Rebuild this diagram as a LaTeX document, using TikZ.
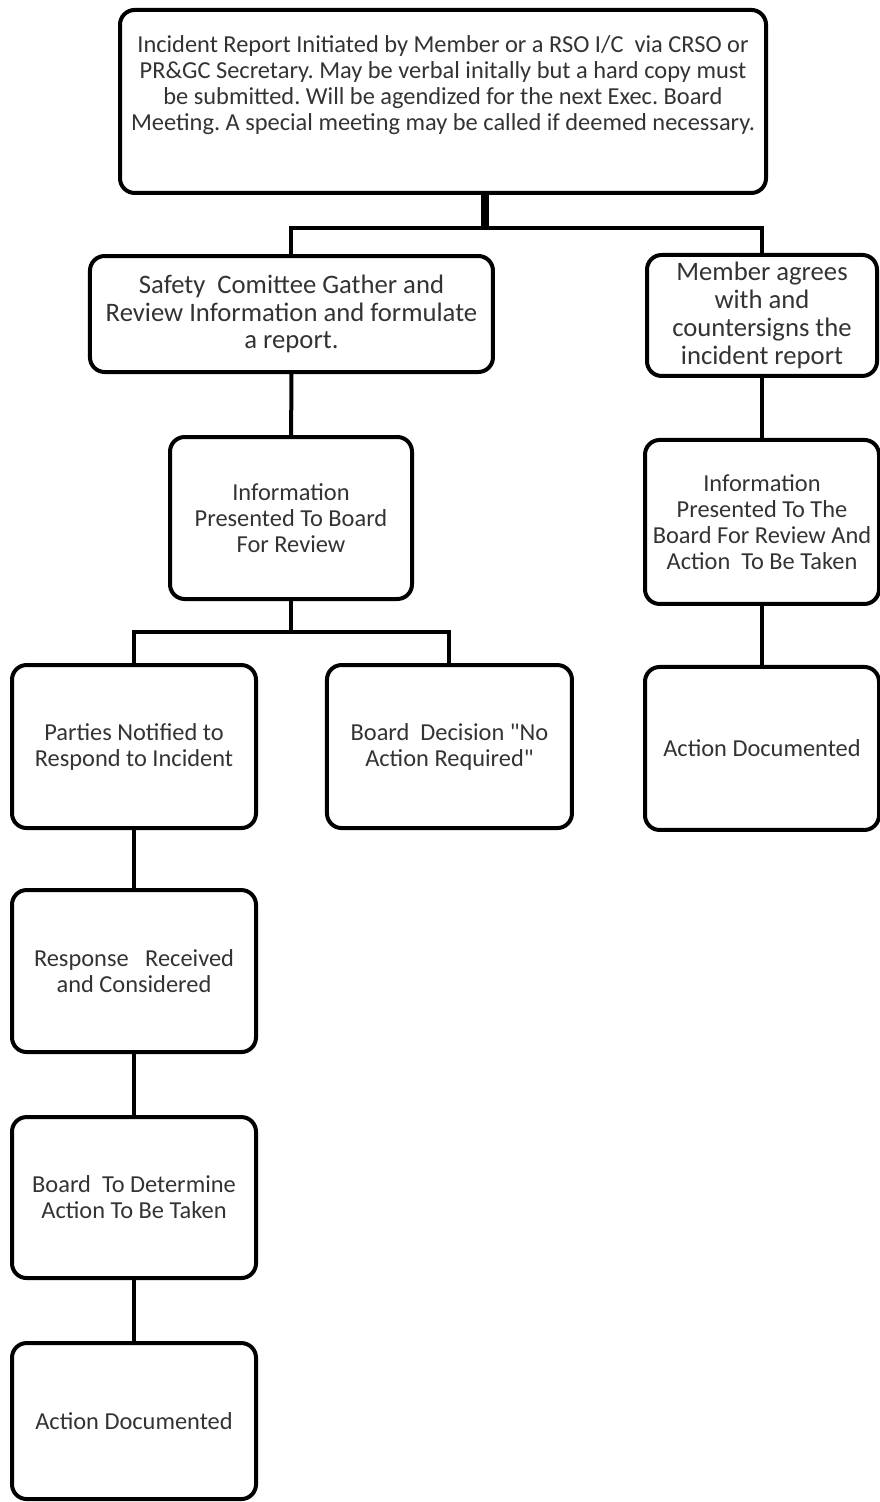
\documentclass[tikz,border=0pt]{standalone}
\usepackage{fontspec}
\setmainfont{Carlito}[Ligatures=TeXOff]
\usepackage{tikz}
\usetikzlibrary{positioning, calc}
\frenchspacing

\begin{document}
\begin{tikzpicture}[
    x=1pt, y=-1pt,
    box/.style={rectangle, draw, line width=3pt, rounded corners=11pt, outer sep=0pt, inner sep=2pt, align=center, text=black!80, font=\fontsize{18.3}{19.5}\selectfont},
    bigbox/.style={box, font=\fontsize{20}{20.5}\selectfont},
    link/.style={line width=3pt},
    trunk/.style={line width=6pt}
]
\useasboundingbox (0,0) rectangle (659.25,1126.5);

% Top
\node[box, minimum width=484.5pt, minimum height=137.25pt, text depth=28pt] (report) at (332.25,76.1)
  {Incident Report Initiated by Member or a RSO I/C~ via CRSO or\\
   PR\&GC Secretary. May be verbal initally but a hard copy must\\
   be submitted. Will be agendized for the next Exec. Board\\
   Meeting. A special meeting may be called if deemed necessary.};

% Left branch
\node[bigbox, minimum width=302.25pt, minimum height=87pt] (review) at (218.6,235.5)
  {Safety~ Comittee Gather and\\ Review Information and formulate\\ a report.};
\node[box, minimum width=181.5pt, minimum height=121.5pt] (present) at (218.25,388.5)
  {Information\\ Presented To Board\\ For Review};
\node[box, minimum width=183pt, minimum height=122.25pt] (notify) at (100.5,559.9)
  {Parties Notified to\\ Respond to Incident};
\node[box, minimum width=183.75pt, minimum height=122.25pt] (noaction) at (337.1,559.9)
  {Board~ Decision "No\\ Action Required"};
\node[box, minimum width=183pt, minimum height=121.5pt, below=46.5pt of notify] (response)
  {Response~~ Received\\ and Considered};
\node[box, minimum width=183pt, minimum height=120.75pt, below=48.75pt of response] (determine)
  {Board~ To Determine\\ Action To Be Taken};
\node[box, minimum width=183pt, minimum height=117pt, below=48.75pt of determine] (doc)
  {Action Documented};

% Right branch
\node[bigbox, minimum width=172.5pt, minimum height=90.75pt, font=\fontsize{20}{21}\selectfont] (agree) at (571.5,236.6)
  {Member agrees\\ with and\\ countersigns the\\ incident report};
\node[box, minimum width=175.5pt, minimum height=123pt, below=48pt of agree] (presentb)
  {Information\\ Presented To The\\ Board For Review And\\ Action~ To Be Taken};
\node[box, minimum width=175.5pt, minimum height=122.25pt, below=47.25pt of presentb] (docb)
  {Action Documented};

% Connectors
\coordinate (split) at ([xshift=31.5pt, yshift=-26.25pt]report.south);
\coordinate[below=24.75pt of present.south] (fork);
\draw[trunk] (split |- report.south) -- (split);
\draw[link] (review.north) |- (split) -| (agree.north);
\draw[link] (review) -- (present);
\draw[link] (present.south) -- (fork);
\draw[link] (notify.north) |- (fork) -| (noaction.north);
\draw[link] (notify) -- (response);
\draw[link] (response) -- (determine);
\draw[link] (determine) -- (doc);
\draw[link] (agree) -- (presentb);
\draw[link] (presentb) -- (docb);

\end{tikzpicture}
\end{document}
